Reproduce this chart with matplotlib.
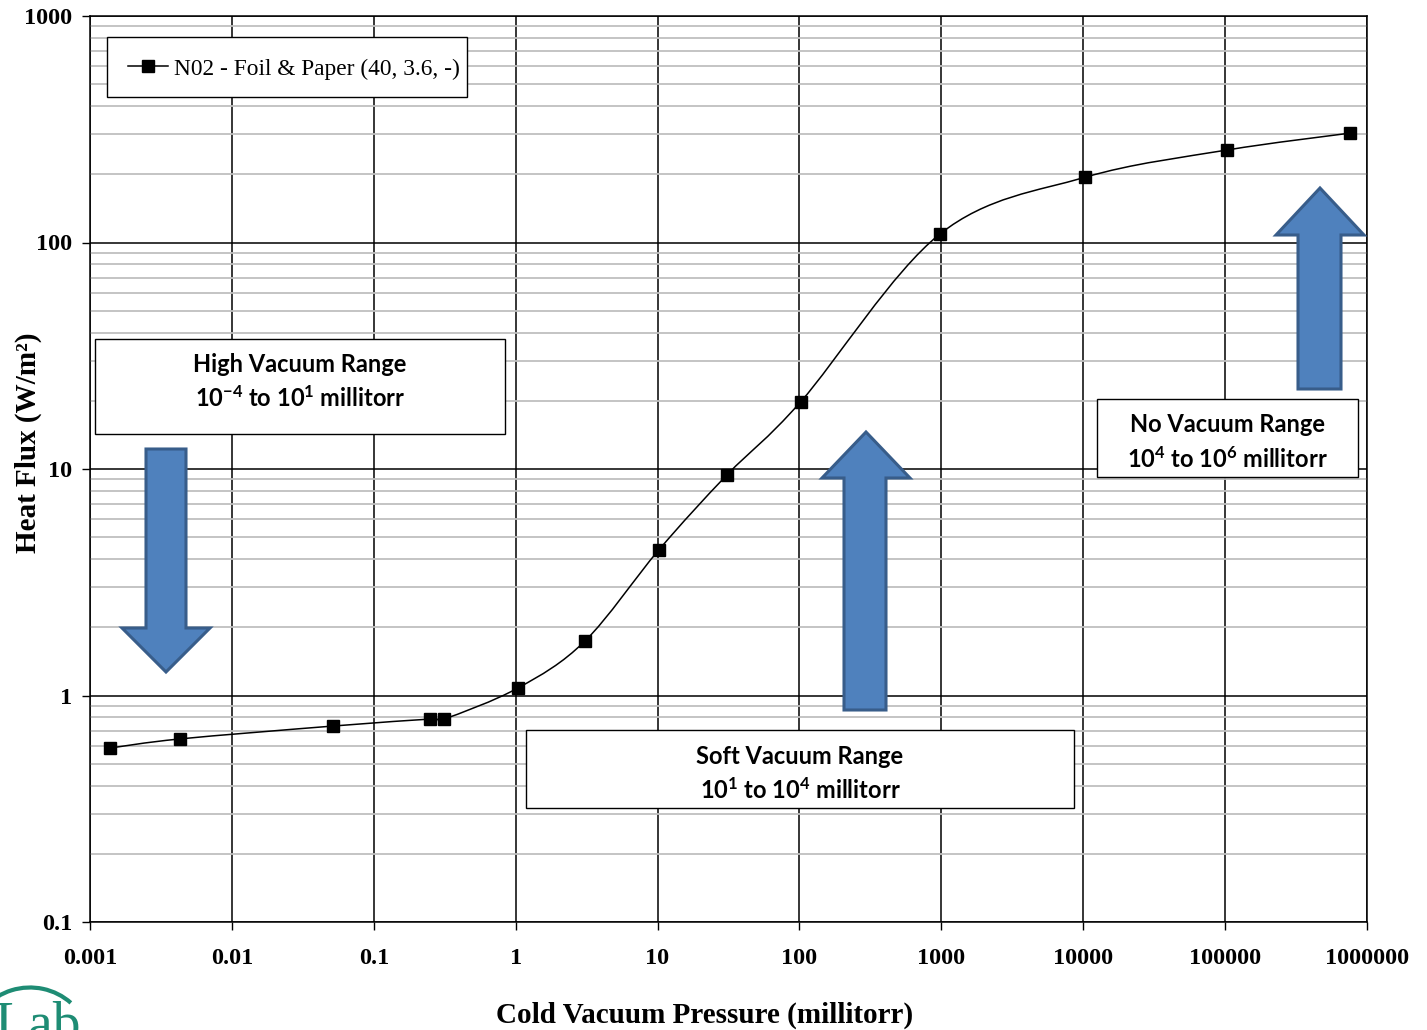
import numpy as np
import matplotlib
matplotlib.use("Agg")
import matplotlib.pyplot as plt
from matplotlib import font_manager
from matplotlib.path import Path
from matplotlib.patches import PathPatch, Polygon, Rectangle, Arc
from matplotlib.lines import Line2D
from matplotlib.ticker import FixedLocator, FixedFormatter, NullLocator

# ---------------- data ----------------
pressure = [0.00138, 0.0043, 0.0515, 0.249, 0.313, 1.04, 3.08, 10.2, 30.8, 102, 977, 10280, 103000, 758000]
heat_flux = [0.586, 0.643, 0.733, 0.787, 0.787, 1.08, 1.74, 4.39, 9.41, 19.8, 109, 194, 256, 304]
series_label = "N02 - Foil & Paper (40, 3.6, -)"
x_ticks = [0.001, 0.01, 0.1, 1, 10, 100, 1000, 10000, 100000, 1000000]
x_tick_labels = ["0.001", "0.01", "0.1", "1", "10", "100", "1000", "10000", "100000", "1000000"]
y_ticks = [0.1, 1, 10, 100, 1000]
y_tick_labels = ["0.1", "1", "10", "100", "1000"]
x_title = "Cold Vacuum Pressure (millitorr)"
y_title = "Heat Flux (W/m\u00b2)"
range_titles = ["High Vacuum Range", "Soft Vacuum Range", "No Vacuum Range"]
range_spans = ["10$^{-4}$ to 10$^{1}$ millitorr", "10$^{1}$ to 10$^{4}$ millitorr", "10$^{4}$ to 10$^{6}$ millitorr"]

# pick a sans family that really has a bold face (Calibri substitute)
sans = 'DejaVu Sans'
for fam in ['Lato', 'Open Sans', 'Noto Sans', 'Roboto']:
    if any(f.name == fam and (f.weight == 'bold' or (isinstance(f.weight, int) and f.weight >= 700))
           for f in font_manager.fontManager.ttflist):
        sans = fam
        break

plt.rcParams['mathtext.fontset'] = 'custom'
plt.rcParams['mathtext.rm'] = sans + ':bold'
plt.rcParams['mathtext.bf'] = sans + ':bold'
plt.rcParams['mathtext.it'] = sans + ':bold'
serif = ['Liberation Serif', 'DejaVu Serif']

W, H = 1427, 1030
fig = plt.figure(figsize=(W / 100, H / 100), dpi=100)
L, R, T, B = 90, 1367, 16, 922
ax = fig.add_axes([L / W, 1 - B / H, (R - L) / W, (B - T) / H])
ax.set_xscale('log')
ax.set_yscale('log')
ax.set_xlim(x_ticks[0], x_ticks[-1])
ax.set_ylim(y_ticks[0], y_ticks[-1])

ax.xaxis.set_major_locator(FixedLocator(x_ticks))
ax.xaxis.set_major_formatter(FixedFormatter(x_tick_labels))
ax.xaxis.set_minor_locator(NullLocator())
ax.yaxis.set_major_locator(FixedLocator(y_ticks))
ax.yaxis.set_major_formatter(FixedFormatter(y_tick_labels))
minor_y = [m * 10.0 ** e for e in range(-1, 3) for m in range(2, 10)]
ax.yaxis.set_minor_locator(FixedLocator(minor_y))

ax.grid(True, which='major', axis='both', color='black', lw=1.1, zorder=0)
ax.grid(True, which='minor', axis='y', color='#BFBFBF', lw=1.3, zorder=0)
ax.set_axisbelow(True)
for s in ax.spines.values():
    s.set_color('black')
    s.set_linewidth(1.1)
ax.tick_params(axis='x', which='major', direction='out', length=6, width=1.0, pad=13, color='black')
ax.tick_params(axis='y', which='major', direction='out', length=6, width=1.0, pad=7, color='black')
ax.tick_params(which='minor', length=0)
for lab in ax.get_xticklabels() + ax.get_yticklabels():
    lab.set_fontfamily(serif)
    lab.set_fontweight('bold')
    lab.set_fontsize(17.5)

ax.set_xlabel(x_title, fontfamily=serif, fontweight='bold', fontsize=21)
ax.set_ylabel(y_title, fontfamily=serif, fontweight='bold', fontsize=21)
ax.xaxis.set_label_coords((705 - L) / (R - L), -(1015 - B) / (B - T))
ax.xaxis.label.set_va('center')
ax.yaxis.set_label_coords((28 - L) / (R - L), (B - 443) / (B - T))
ax.yaxis.label.set_va('center')

# ---------------- smoothed line (Catmull-Rom Bezier in log space) ----------------
lx = np.log10(pressure)
ly = np.log10(heat_flux)
P = np.column_stack([lx, ly])
n = len(P)
verts = [P[0]]
codes = [Path.MOVETO]
for i in range(n - 1):
    p0 = P[i - 1] if i > 0 else P[i]
    p1 = P[i]
    p2 = P[i + 1]
    p3 = P[i + 2] if i + 2 < n else P[i + 1]
    c1 = p1 + (p2 - p0) / 6.0
    c2 = p2 - (p3 - p1) / 6.0
    verts += [c1, c2, p2]
    codes += [Path.CURVE4] * 3
verts = 10.0 ** np.array(verts)
ax.add_patch(PathPatch(Path(verts, codes), fill=False, edgecolor='black', lw=1.1, zorder=3))
ax.plot(pressure, heat_flux, ls='none', marker='s', ms=8, color='black', zorder=4)


def fx(px):
    return (px - L) / (R - L)


def fy(py):
    return (B - py) / (B - T)


# legend: manual frame + frameless legend
ax.add_patch(Rectangle((fx(107), fy(97)), fx(467) - fx(107), fy(37) - fy(97), transform=ax.transAxes,
                       facecolor='white', edgecolor='black', lw=1.0, zorder=5))
handle = Line2D([], [], color='black', lw=1.1, marker='s', ms=8)
leg = ax.legend([handle], [series_label], loc='center left',
                bbox_to_anchor=(fx(128), fy(69)),
                borderaxespad=0, frameon=False, prop={'family': serif, 'size': 16.8},
                handlelength=1.7, handletextpad=0.25, borderpad=0)
leg.set_zorder(6)

# ---------------- annotation boxes ----------------
boxes = [(95, 505, 339, 434, 364, 398), (526, 1074, 730, 808, 756, 790), (1097, 1358, 399, 477, 425, 459)]
for (x0, x1, y0, y1, t1, t2), title, span in zip(boxes, range_titles, range_spans):
    ax.add_patch(Rectangle((fx(x0), fy(y1)), fx(x1) - fx(x0), fy(y0) - fy(y1), transform=ax.transAxes,
                           facecolor='white', edgecolor='black', lw=1.0, zorder=5, clip_on=False))
    cx = fx((x0 + x1) / 2)
    ax.text(cx, fy(t1), title, transform=ax.transAxes, ha='center', va='center',
            fontfamily=sans, fontweight='bold', fontsize=17, zorder=6)
    ax.text(cx, fy(t2), span, transform=ax.transAxes, ha='center', va='center',
            fontfamily=sans, fontweight='bold', fontsize=17, zorder=6)

# ---------------- arrows ----------------
def up_arrow(tipx, tipy, hx0, hx1, hy, sx0, sx1, by):
    return [(fx(tipx), fy(tipy)), (fx(hx1), fy(hy)), (fx(sx1), fy(hy)), (fx(sx1), fy(by)),
            (fx(sx0), fy(by)), (fx(sx0), fy(hy)), (fx(hx0), fy(hy))]


arrows = [
    up_arrow(166, 672, 122, 210, 628, 146, 186, 449),
    up_arrow(866, 432, 822, 910, 478, 844, 886, 710),
    up_arrow(1320, 188, 1276, 1364, 235, 1298, 1341, 389),
]
for pts in arrows:
    ax.add_patch(Polygon(pts, closed=True, transform=ax.transAxes, facecolor='#4F81BD',
                         edgecolor='#385D8A', lw=2.2, zorder=5, clip_on=False))

# ---------------- logo fragment ----------------
fig.text(-0.004, -0.022, "Lab", fontfamily=serif, fontsize=40, color='#1E8C74', ha='left', va='bottom')
fig.add_artist(Arc((30 / W, 1 - 1045 / H), 120 / W, 115 / H, theta1=55, theta2=165,
                   transform=fig.transFigure, color='#1E8C74', lw=3))

fig.savefig("out.png", dpi=100)
